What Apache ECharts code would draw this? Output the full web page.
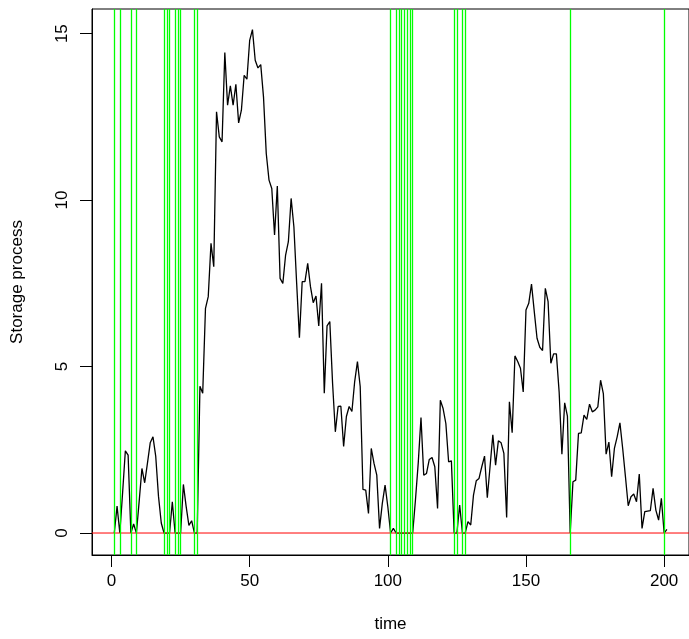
<!DOCTYPE html>
<html>
<head>
<meta charset="utf-8">
<script src="https://cdn.jsdelivr.net/npm/echarts@6/dist/echarts.min.js"></script>
<style>
  html, body { margin: 0; padding: 0; background: #fff; }
  #chart { width: 689px; height: 639px; }
</style>
</head>
<body>
<div id="chart"></div>
<script>
// Storage level at time steps 1..201
const storage = [
  0, 0.81, 0, 1.2, 2.47, 2.34, 0, 0.27, 0, 0.95,
  1.94, 1.51, 2.1, 2.71, 2.89, 2.3, 1.1, 0.3, 0, 0,
  0, 0.94, 0, 0, 0, 1.46, 0.8, 0.23, 0.37, 0,
  0, 4.41, 4.2, 6.75, 7.1, 8.7, 8.0, 12.65, 11.9, 11.75,
  14.43, 12.85, 13.43, 12.85, 13.48, 12.32, 12.7, 13.75, 13.63, 14.8,
  15.12, 14.2, 13.97, 14.07, 13.1, 11.4, 10.6, 10.35, 8.95, 10.42,
  7.65, 7.5, 8.35, 8.75, 10.05, 9.2, 7.5, 5.87, 7.55, 7.55,
  8.1, 7.4, 6.92, 7.12, 6.22, 7.5, 4.2, 6.22, 6.35, 4.5,
  3.04, 3.8, 3.81, 2.6, 3.5, 3.8, 3.65, 4.55, 5.15, 4.4,
  1.31, 1.29, 0.59, 2.54, 2.09, 1.74, 0.14, 0.89, 1.44, 0.79,
  0, 0.14, 0, 0, 0, 0, 0, 0, 0, 1.0,
  2.1, 3.47, 1.74, 1.79, 2.21, 2.27, 1.99, 0.74, 3.99, 3.74,
  3.29, 2.14, 2.17, 0, 0, 0.84, 0, 0, 0.34, 0.24,
  1.14, 1.57, 1.64, 1.99, 2.31, 1.06, 2.0, 2.95, 2.04, 2.77,
  2.71, 2.39, 0.47, 3.94, 3.01, 5.32, 5.15, 4.95, 4.24, 6.7,
  6.9, 7.48, 6.65, 5.85, 5.58, 5.48, 7.35, 6.95, 5.1, 5.38,
  5.38, 4.24, 2.37, 3.91, 3.51, 0, 1.54, 1.59, 2.99, 3.01,
  3.54, 3.41, 3.87, 3.64, 3.69, 3.79, 4.59, 4.19, 2.37, 2.73,
  1.69, 2.54, 2.89, 3.31, 2.54, 1.69, 0.82, 1.09, 1.17, 0.94,
  1.77, 0.14, 0.64, 0.66, 0.67, 1.34, 0.69, 0.39, 1.04, 0,
  0.11
];

const xTicks = [0, 50, 100, 150, 200];
const yTicks = [0, 5, 10, 15];
const zeroLevel = 0;

// Axis extents (time range padded by 4%, as in a base R plot)
const xMin = -7.07, xMax = 209;
const yMin = -0.66, yMax = 15.74;

// x is the time index (1-based); empty-storage times get a vertical marker
const points = storage.map((v, i) => [i + 1, v]);
const emptyTimes = points.filter(p => p[1] === 0).map(p => p[0]);

const FONT = 'Liberation Sans, Arial, Helvetica, sans-serif';

const chart = echarts.init(document.getElementById('chart'), null, { renderer: 'canvas' });

chart.setOption({
  animation: false,
  backgroundColor: '#ffffff',
  grid: {
    left: 92, top: 9, right: -11, bottom: 84,
    show: true, borderColor: '#000', borderWidth: 1, backgroundColor: 'transparent'
  },
  xAxis: {
    type: 'value',
    min: xMin, max: xMax,
    name: 'time',
    nameLocation: 'middle',
    nameGap: 61,
    nameTextStyle: { fontFamily: FONT, fontSize: 17, color: '#000' },
    axisLine: { show: true, onZero: false, lineStyle: { color: '#000', width: 1 } },
    axisTick: { show: true, length: 12, customValues: xTicks, lineStyle: { color: '#000', width: 1 } },
    axisLabel: { show: true, customValues: xTicks, margin: 18, fontFamily: FONT, fontSize: 17, color: '#000' },
    splitLine: { show: false }
  },
  yAxis: {
    type: 'value',
    min: yMin, max: yMax,
    name: 'Storage process',
    nameLocation: 'middle',
    nameRotate: 90,
    nameGap: 66,
    nameTextStyle: { fontFamily: FONT, fontSize: 17, color: '#000' },
    axisLine: { show: true, onZero: false, lineStyle: { color: '#000', width: 1 } },
    axisTick: { show: true, length: 12, customValues: yTicks, lineStyle: { color: '#000', width: 1 } },
    axisLabel: { show: true, customValues: yTicks, rotate: 90, margin: 21, fontFamily: FONT, fontSize: 17, color: '#000' },
    splitLine: { show: false }
  },
  series: [
    {
      name: 'storage',
      type: 'line',
      data: points,
      showSymbol: false,
      symbol: 'none',
      lineStyle: { color: '#000', width: 1.3 },
      z: 2
    },
    {
      name: 'empty',
      type: 'line',
      data: [],
      z: 3,
      markLine: {
        silent: true,
        symbol: 'none',
        label: { show: false },
        lineStyle: { color: '#00ff00', width: 1.3, type: 'solid' },
        data: emptyTimes.map(t => ({ xAxis: t }))
      }
    },
    {
      // horizontal reference line at the zero storage level
      name: 'zero',
      type: 'line',
      data: [[xMin, zeroLevel], [xMax, zeroLevel]],
      showSymbol: false,
      symbol: 'none',
      color: '#ff0000',
      lineStyle: { color: '#ff0000', width: 1 },
      z: 4
    }
  ]
});
</script>
</body>
</html>
